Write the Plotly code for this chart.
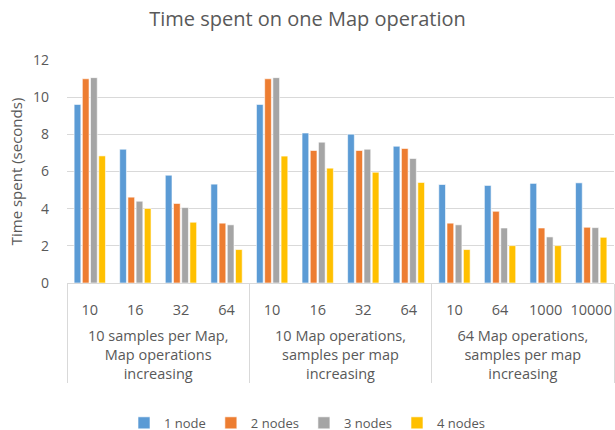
import plotly.graph_objects as go

SPACER = "<br><span style='color:rgba(255,255,255,0)'>.</span>"
groups = [
    "10 samples per Map,<br>Map operations<br>increasing",
    "10 Map operations,<br>samples per map<br>increasing",
    "64 Map operations,<br>samples per map<br>increasing",
]
sub_labels = [
    ["10", "16", "32", "64"],
    ["10", "16", "32", "64"],
    ["10", "64", "1000", "10000"],
]

series_names = ["1 node", "2 nodes", "3 nodes", "4 nodes"]
node1 = [9.61, 7.20, 5.80, 5.32, 9.61, 8.07, 8.01, 7.36, 5.30, 5.25, 5.36, 5.39]
node2 = [10.99, 4.62, 4.28, 3.22, 10.99, 7.13, 7.13, 7.24, 3.22, 3.86, 2.96, 3.00]
node3 = [11.05, 4.40, 4.06, 3.13, 11.05, 7.58, 7.20, 6.70, 3.13, 2.96, 2.48, 2.98]
node4 = [6.84, 4.01, 3.27, 1.80, 6.83, 6.18, 5.96, 5.41, 1.80, 2.01, 2.01, 2.46]
colors = ["#5b9bd5", "#ed7d31", "#a5a5a5", "#ffc000"]

outer = [g for g, subs in zip(groups, sub_labels) for _ in subs]
inner = [s + SPACER for subs in sub_labels for s in subs]

FONT = "Open Sans"
TXT = "#595959"

fig = go.Figure()
for name, vals, c in zip(series_names, [node1, node2, node3, node4], colors):
    fig.add_trace(go.Bar(
        x=[outer, inner], y=vals, name=name,
        marker=dict(color=c, line=dict(color="white", width=0.6)),
    ))

fig.update_layout(
    width=615, height=430,
    paper_bgcolor="white", plot_bgcolor="white",
    margin=dict(l=67, r=1, t=60, b=147, autoexpand=False),
    barmode="group", bargap=0.28, bargroupgap=0.18,
    font=dict(family=FONT, color=TXT, size=13),
    title=dict(text="Time spent on one Map operation", x=0.5, xref="container",
               y=0.955, yref="container", xanchor="center", yanchor="middle",
               font=dict(family=FONT, size=20, color=TXT)),
    legend=dict(orientation="h", x=0.5, xref="container", xanchor="center",
                y=-0.56, yanchor="top", font=dict(size=13, color=TXT),
                itemwidth=30, traceorder="normal"),
    xaxis=dict(type="multicategory", showgrid=False, showline=True,
               linecolor="#d9d9d9", linewidth=1, tickfont=dict(size=14.5, color=TXT),
               showdividers=True, dividercolor="#d9d9d9", dividerwidth=1,
               ticks="", tickangle=0, ticklabelstandoff=14, automargin=False),
    yaxis=dict(range=[0, 12], dtick=2, showgrid=True, gridcolor="#d9d9d9",
               gridwidth=1, zeroline=False, showline=False,
               tickfont=dict(size=14, color=TXT), ticklabelstandoff=17,
               title=dict(text="Time spent (seconds)", font=dict(size=15, color=TXT),
                          standoff=6),
               automargin=False),
)

fig.write_html("out.html", config={"displayModeBar": False},
               post_script="document.body.style.margin='0';")
